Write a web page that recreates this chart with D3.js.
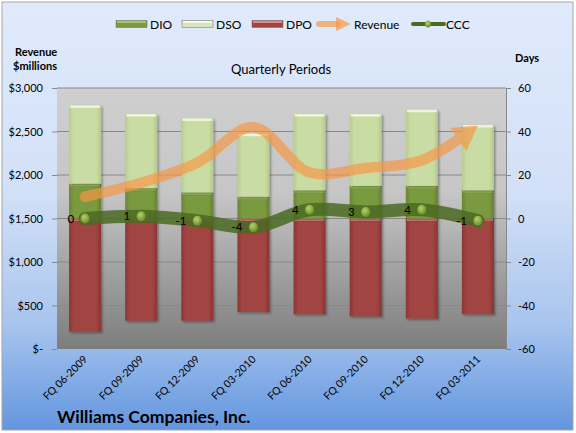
<!DOCTYPE html>
<html><head><meta charset="utf-8">
<script src="https://cdn.jsdelivr.net/npm/d3@7/dist/d3.min.js"></script>
<style>
body{margin:0;background:#fff;}
text{font-family:Lato,"Open Sans",sans-serif;}
</style></head>
<body><svg id="c" width="576" height="433"></svg>
<script>
const categories=["FQ 06-2009","FQ 09-2009","FQ 12-2009","FQ 03-2010","FQ 06-2010","FQ 09-2010","FQ 12-2010","FQ 03-2011"];
const dio=[16,14,12,10,13,15,15,13];
const dso=[36,34,34,29,35,33,35,30];
const dpo=[-52,-47,-47,-43,-44,-45,-46,-44];
const ccc=[0,1,-1,-4,4,3,4,-1];
const revenue=[1750,1910,2140,2550,2030,2080,2170,2570];
const revTicks=[0,500,1000,1500,2000,2500,3000];
const dayTicks=[-60,-40,-20,0,20,40,60];

const svg=d3.select("#c");
const defs=svg.append("defs");
function lg(id,stops,x2,y2){const g=defs.append("linearGradient").attr("id",id).attr("x1",0).attr("y1",0).attr("x2",x2).attr("y2",y2);
 stops.forEach(s=>g.append("stop").attr("offset",s[0]).attr("stop-color",s[1]));}
lg("bg",[[0,"#e0eafc"],[0.45,"#d2e0f7"],[0.75,"#a9c5ee"],[1,"#6396df"]],0,1);
lg("plot",[[0,"#cfcfcf"],[0.4,"#c6c6c6"],[1,"#7d7d7d"]],0,1);
lg("gDPO",[[0,"#8e3533"],[0.15,"#a14442"],[0.85,"#a14442"],[1,"#8a3230"]],1,0);
lg("gDIO",[[0,"#6a8535"],[0.15,"#7a9a3f"],[0.85,"#7a9a3f"],[1,"#66802f"]],1,0);
lg("gDSO",[[0,"#b9cd90"],[0.15,"#c9dca4"],[0.85,"#c9dca4"],[1,"#b5c98b"]],1,0);
const rg=defs.append("radialGradient").attr("id","dot").attr("cx","40%").attr("cy","35%").attr("r","65%");
rg.append("stop").attr("offset",0).attr("stop-color","#b5d26a");
rg.append("stop").attr("offset",1).attr("stop-color","#6b8f2c");
const f=defs.append("filter").attr("id","sh").attr("x","-20%").attr("y","-20%").attr("width","150%").attr("height","150%");
f.append("feDropShadow").attr("dx",1.5).attr("dy",1.5).attr("stdDeviation",1).attr("flood-color","#000").attr("flood-opacity",0.35);

svg.append("rect").attr("x",2).attr("y",2).attr("width",571).attr("height",428).attr("fill","url(#bg)").attr("stroke","#a6a6a6").attr("stroke-width",1);

const L=57,R=506,T=88,B=349;
const x=d3.scaleBand().domain(categories).range([L,R]).paddingInner(0.43).paddingOuter(0.215);
const yD=d3.scaleLinear().domain([-60,60]).range([B,T]);
const yR=d3.scaleLinear().domain([0,3000]).range([B,T]);

svg.append("rect").attr("x",L).attr("y",T).attr("width",R-L).attr("height",B-T).attr("fill","url(#plot)");
// gridlines
svg.append("g").selectAll("line").data(dayTicks.filter(d=>d>-60)).join("line")
 .attr("x1",L).attr("x2",R).attr("y1",d=>yD(d)).attr("y2",d=>yD(d)).attr("stroke","#888").attr("stroke-width",1);

// axes
const la=svg.append("g").attr("transform",`translate(${L},0)`).call(d3.axisLeft(yR).tickValues(revTicks).tickSize(5).tickPadding(10)
 .tickFormat(v=>v===0?"$-":"$"+d3.format(",")(v)));
la.select(".domain").remove();
la.selectAll("line").attr("stroke","#888");
la.selectAll("text").attr("font-size",11).attr("fill","#000").attr("x",-14);
const ra=svg.append("g").attr("transform",`translate(${R},0)`).call(d3.axisRight(yD).tickValues(dayTicks).tickSize(5).tickPadding(7).tickFormat(v=>String(v)));
ra.select(".domain").attr("stroke","#888");
ra.selectAll("line").attr("stroke","#888");
ra.selectAll("text").attr("font-size",11).attr("fill","#000");

// bars
const bars=svg.append("g");
function bar(i,v0,v1,fill,hi){
  const bx=x(categories[i]),bw=x.bandwidth();
  const y0=yD(Math.max(v0,v1)),y1=yD(Math.min(v0,v1));
  const g=bars.append("g").attr("filter","url(#sh)");
  g.append("rect").attr("x",bx).attr("y",y0).attr("width",bw).attr("height",y1-y0).attr("fill",fill);
  g.append("rect").attr("x",bx+1).attr("y",y0).attr("width",bw-2).attr("height",2.5).attr("fill",hi).attr("opacity",0.85);
}
categories.forEach((c,i)=>{
  bar(i,dpo[i],0,"url(#gDPO)","#e08a88");
  bar(i,0,dio[i],"url(#gDIO)","#a8c46a");
  bar(i,dio[i],dio[i]+dso[i],"url(#gDSO)","#f4f8e4");
});

// revenue arrow
const cx=c=>x(c)+x.bandwidth()/2;
const revPts=categories.map((c,i)=>[cx(c),yR(revenue[i])]);
const rl=d3.line().curve(d3.curveCatmullRom.alpha(0.5));
const rgG=svg.append("g").attr("opacity",0.68);
const rp=rgG.append("path").attr("d",rl(revPts)).attr("fill","none").attr("stroke","#f79646").attr("stroke-width",10.5).attr("stroke-linecap","round");
const len=rp.node().getTotalLength();
const head=24;
rp.attr("stroke-dasharray",`${len-head+4},${len}`);
const tip=rp.node().getPointAtLength(len);
const base=rp.node().getPointAtLength(len-head);
const ang=Math.atan2(tip.y-base.y,tip.x-base.x);
const hw=14;
const px=-Math.sin(ang),py=Math.cos(ang);
rgG.append("polygon").attr("fill","#f79646")
 .attr("points",[[tip.x,tip.y],[base.x+px*hw,base.y+py*hw],[base.x-px*hw,base.y-py*hw]].map(p=>p.join(",")).join(" "));

// CCC
const cPts=categories.map((c,i)=>[cx(c),yD(ccc[i])]);
svg.append("path").attr("d",d3.line().curve(d3.curveCatmullRom.alpha(0.5))(cPts)).attr("fill","none")
 .attr("stroke","#4a6a22").attr("stroke-opacity",0.85).attr("stroke-width",13).attr("stroke-linecap","round");
svg.append("g").selectAll("ellipse").data(cPts).join("ellipse").attr("cx",d=>d[0]).attr("cy",d=>d[1]).attr("rx",4.5).attr("ry",5)
 .attr("fill","url(#dot)");
svg.append("g").selectAll("text").data(cPts).join("text").attr("x",d=>d[0]-11).attr("y",d=>d[1]).attr("dy","0.35em")
 .attr("text-anchor","end").attr("font-size",11.5).attr("fill","#000").text((d,i)=>ccc[i]);

// x labels
svg.append("g").selectAll("text").data(categories).join("text")
 .attr("transform",c=>`translate(${cx(c)+3},${B+11}) rotate(-45)`).attr("text-anchor","end").attr("font-size",10.5).attr("fill","#000").text(c=>c);

// titles
svg.append("text").attr("x",15).attr("y",56).attr("font-size",11).attr("font-weight","bold").text("Revenue");
svg.append("text").attr("x",13).attr("y",70).attr("font-size",11).attr("font-weight","bold").text("$millions");
svg.append("text").attr("x",515).attr("y",62).attr("font-size",11).attr("font-weight","bold").text("Days");
svg.append("text").attr("x",281).attr("y",74).attr("text-anchor","middle").attr("font-size",13).text("Quarterly Periods");
svg.append("text").attr("x",57).attr("y",423).attr("font-size",17.5).attr("font-weight","bold").text("Williams Companies, Inc.");

// legend
const lgY=24;
const leg=svg.append("g");
[["DIO","#7a9a3f","#a8c46a",116],["DSO","#d7e4bd","#f7fae8",182],["DPO","#a14442","#e08a88",252]].forEach(d=>{
 leg.append("rect").attr("x",d[3]).attr("y",lgY-3.5).attr("width",31).attr("height",7).attr("fill",d[1]).attr("stroke","#6b6b6b").attr("stroke-width",0.5);
 leg.append("rect").attr("x",d[3]+1).attr("y",lgY-3).attr("width",29).attr("height",2).attr("fill",d[2]);
 leg.append("text").attr("x",d[3]+34).attr("y",lgY+0.5).attr("dy","0.35em").attr("font-size",12).text(d[0]);
});
leg.append("line").attr("x1",319).attr("x2",338).attr("y1",lgY).attr("y2",lgY).attr("stroke","#f79646").attr("stroke-opacity",0.68).attr("stroke-width",6).attr("stroke-linecap","round");
leg.append("polygon").attr("points",`336,${lgY-7} 351,${lgY} 336,${lgY+7}`).attr("fill","#f79646").attr("opacity",0.68);
leg.append("text").attr("x",354).attr("y",lgY+0.5).attr("dy","0.35em").attr("font-size",12).text("Revenue");
leg.append("line").attr("x1",413).attr("x2",444).attr("y1",lgY).attr("y2",lgY).attr("stroke","#4a6a22").attr("stroke-width",4).attr("stroke-linecap","round");
leg.append("ellipse").attr("cx",428).attr("cy",lgY).attr("rx",3).attr("ry",3.5).attr("fill","url(#dot)");
leg.append("text").attr("x",446).attr("y",lgY+0.5).attr("dy","0.35em").attr("font-size",12).text("CCC");
</script></body></html>
